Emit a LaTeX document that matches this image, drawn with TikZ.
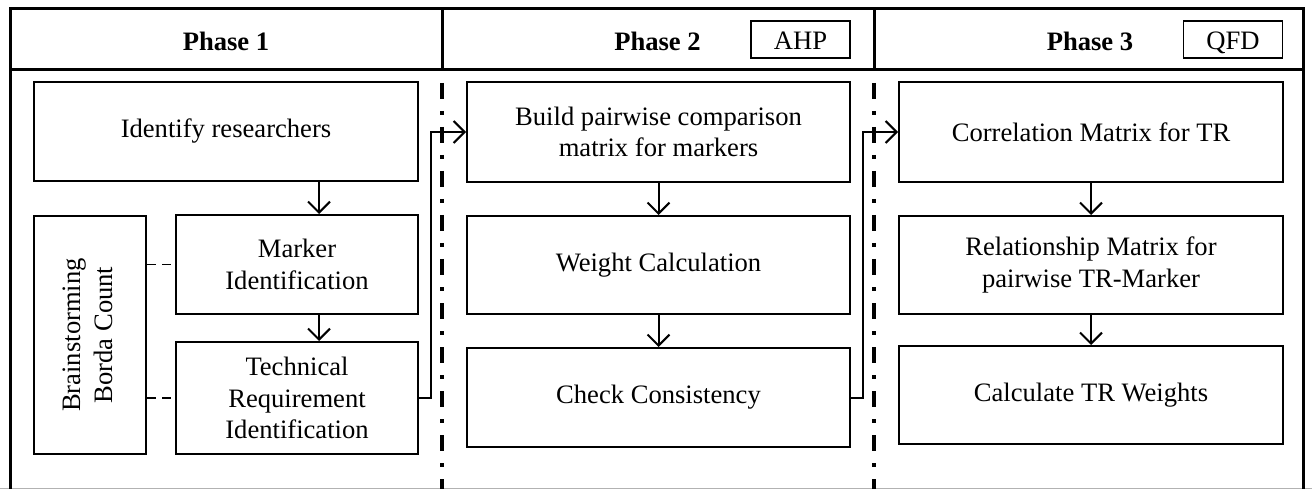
\documentclass[tikz,border=0pt]{standalone}
\usepackage{fontspec}
\setmainfont{Liberation Serif}
\usetikzlibrary{arrows.meta}
\begin{document}
\begin{tikzpicture}[x=1pt,y=-1pt,
  every node/.style={font=\fontsize{26.6}{31.5}\selectfont},
  stepbox/.style={draw, line width=2pt, inner sep=0pt, align=center, minimum height=99pt},
  tagbox/.style={draw, line width=1.6pt, inner sep=0pt, minimum width=99pt, minimum height=37pt,
    text height=21pt, text depth=0pt},
  title/.style={font=\fontsize{26.6}{31.5}\selectfont\bfseries},
  flow/.style={line width=2pt, -{Straight Barb[length=11pt,width=22pt,line width=2pt]}},
  linkdash/.style={line width=1.3pt, dash pattern=on 9pt off 6pt},
  frameline/.style={line width=3pt},
  phasesep/.style={line width=3.5pt, dash pattern=on 16pt off 12pt on 4pt off 12pt}
]
\useasboundingbox (0,0) rectangle (1312,489);

% outer frame and header
\draw[gray!60, line width=1pt] (0,488) -- (1312,488);
\draw[frameline] (10,489) -- (10,9) -- (1303,9) -- (1303,489);
\draw[frameline] (10,70) -- (1303,70);
\draw[frameline] (442,9) -- (442,70);
\draw[frameline] (874,9) -- (874,70);

% phase separators
\draw[phasesep] (442,83) -- (442,489);
\draw[phasesep] (874,83) -- (874,489);

% header titles
\node[title] (ph1) at (226,41) {Phase 1};
\node[title] (ph2) at (657.5,41) {Phase 2};
\node[tagbox] (ahp) at (800.5,39.5) {AHP};
\node[title] (ph3) at (1090,41) {Phase 3};
\node[tagbox] (qfd) at (1233,39.5) {QFD};

% phase 1
\node[stepbox, minimum width=384pt] (idr) at (226,131.5) {Identify researchers};
\node[stepbox, minimum width=242pt] (mark) at (297,264.5) {Marker\\Identification};
\node[stepbox, minimum width=242pt, minimum height=112pt] (tri) at (297,398) {Technical\\Requirement\\Identification};
\node[stepbox, minimum width=112pt, minimum height=238pt] (brain) at (90,335)
  {\rotatebox{90}{\begin{tabular}{@{}c@{}}Brainstorming\\Borda Count\end{tabular}}};

% phase 2
\node[stepbox, minimum width=383pt, minimum height=100pt] (build) at (658.5,132) {Build pairwise comparison\\matrix for markers};
\node[stepbox, minimum width=383pt, minimum height=98pt] (weight) at (658.5,265) {Weight Calculation};
\node[stepbox, minimum width=383pt] (check) at (658.5,397.5) {Check Consistency};

% phase 3
\node[stepbox, minimum width=384pt, minimum height=100pt] (corr) at (1091,132) {Correlation Matrix for TR};
\node[stepbox, minimum width=384pt, minimum height=98pt] (rel) at (1091,265) {Relationship Matrix for\\pairwise TR-Marker};
\node[stepbox, minimum width=384pt, minimum height=98pt] (calc) at (1091,395) {Calculate TR Weights};

% flow arrows
\draw[flow] ([xshift=93pt]idr.south) -- ([xshift=22pt]mark.north);
\draw[flow] ([xshift=22pt]mark.south) -- ([xshift=22pt]tri.north);
\draw[flow] (build.south) -- (weight.north);
\draw[flow] (weight.south) -- (check.north);
\draw[flow] (corr.south) -- (rel.north);
\draw[flow] (rel.south) -- (calc.north);
\draw[flow] (tri.east) -- ++(12,0) |- (build.west);
\draw[flow] (check.east) -- ++(12,0) |- (corr.west);

% method links
\draw[linkdash] (brain.east |- mark.west) -- (mark.west);
\draw[linkdash] (brain.east |- tri.west) -- (tri.west);
\end{tikzpicture}
\end{document}
